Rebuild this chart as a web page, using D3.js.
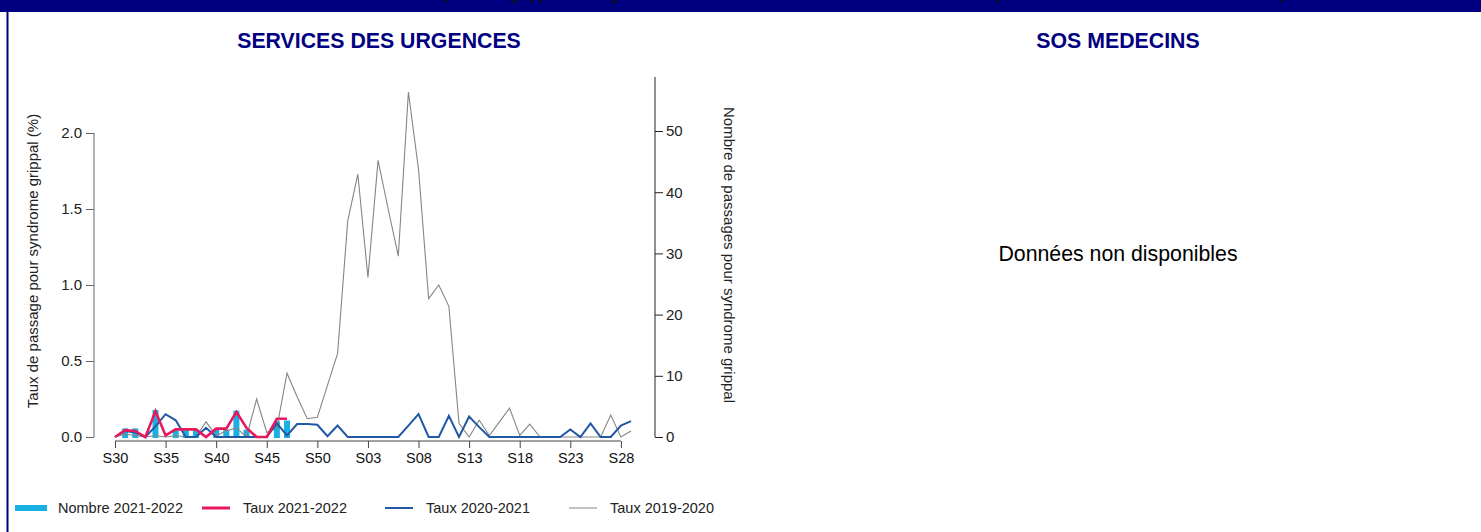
<!DOCTYPE html>
<html>
<head>
<meta charset="utf-8">
<script src="https://cdn.jsdelivr.net/npm/d3@7"></script>
<style>
	body { margin: 0; background: #fff; font-family: "Liberation Sans", Arial, sans-serif; }
	svg { display: block; }
	.axis text { font-family: "Liberation Sans", Arial, sans-serif; }
</style>
</head>
<body>
<script>
var weeks = ["S30", "S31", "S32", "S33", "S34", "S35", "S36", "S37", "S38", "S39", "S40", "S41", "S42",
	"S43", "S44", "S45", "S46", "S47", "S48", "S49", "S50", "S51", "S52", "S01", "S02", "S03", "S04",
	"S05", "S06", "S07", "S08", "S09", "S10", "S11", "S12", "S13", "S14", "S15", "S16", "S17", "S18",
	"S19", "S20", "S21", "S22", "S23", "S24", "S25", "S26", "S27", "S28", "S29"]
var tickWeeks = ["S30", "S35", "S40", "S45", "S50", "S03", "S08", "S13", "S18", "S23", "S28"]
var tauxTicks = [0, 0.5, 1.0, 1.5, 2.0]
var nombreTicks = [0, 10, 20, 30, 40, 50]

// saison en cours (s'arrete en S47)
var nombre2122 = [0, 1.4, 1.4, 0, 4.4, 0, 1.2, 1.2, 1.2, 0, 1.3, 1.2, 4.3, 1.2, 0, 0, 2.6, 2.7]
var taux2122 = [0, 0.045, 0.04, 0.0, 0.17, 0.01, 0.05, 0.05, 0.05, 0.0, 0.055, 0.055, 0.165, 0.06, 0.0, 0.0, 0.12, 0.12]

var taux2021 = [0, 0.04, 0.03, 0.0, 0.07, 0.15, 0.11, 0.0, 0.0, 0.06, 0, 0, 0, 0, 0, 0, 0.09, 0.01,
	0.085, 0.085, 0.08, 0.005, 0.075, 0, 0, 0, 0, 0, 0, 0.075, 0.15, 0, 0, 0.14, 0, 0.135, 0.065, 0,
	0, 0, 0, 0, 0, 0, 0, 0.05, 0, 0.09, 0, 0, 0.075, 0.105]

var taux1920 = [0, 0.02, 0.01, 0.0, 0.01, 0.0, 0.01, 0.0, 0.0, 0.1, 0.01, 0.04, 0.06, 0.0, 0.25, 0.03,
	0.06, 0.42, 0.265, 0.12, 0.13, 0.34, 0.55, 1.42, 1.73, 1.05, 1.82, 1.5, 1.19, 2.27, 1.76, 0.91, 1.0,
	0.86, 0.09, 0.0, 0.11, 0.01, 0.1, 0.19, 0.01, 0.085, 0, 0, 0, 0, 0, 0, 0, 0.145, 0.0, 0.04]

var legendItems = ["Nombre 2021-2022", "Taux 2021-2022", "Taux 2020-2021", "Taux 2019-2020"]

var colors = {
	nombre: "#1ab0e3",
	taux2122: "#e8185c",
	taux2021: "#2158a6",
	taux1920: "#858585",
	navy: "#000080"
}

function main() {
	var w = 1481
	var h = 532

	var svg = d3.select("body")
		.append("svg")
		.attr("width", w)
		.attr("height", h)

	drawFrame(svg, w, h)
	plotUrgences(svg)
	plotSos(svg)
	drawLegend(svg)
}

function drawFrame(svg, w, h) {
	svg.append("rect")
		.attr("x", 0)
		.attr("y", 0)
		.attr("width", w)
		.attr("height", 12)
		.attr("fill", colors.navy)

	// titre coupe par le haut de la capture : seuls les jambages depassent
	svg.append("text")
		.attr("x", 755)
		.attr("y", 0)
		.attr("text-anchor", "middle")
		.style("font-size", "15px")
		.style("font-weight", "bold")
		.attr("fill", "#111")
		.text("Evolution de l'activité liée au syndrome grippal aux urgences et SOS Médecins dans le Morbihan 2021-2022 (données arrêtées au 28 novembre 2021)")

	svg.append("line")
		.attr("x1", 7.5)
		.attr("x2", 7.5)
		.attr("y1", 12)
		.attr("y2", h)
		.attr("stroke", colors.navy)
		.attr("stroke-width", 2)

	svg.append("text")
		.attr("x", 379)
		.attr("y", 48)
		.attr("text-anchor", "middle")
		.style("font-size", "21.3px")
		.style("font-weight", "bold")
		.attr("fill", colors.navy)
		.text("SERVICES DES URGENCES")

	svg.append("text")
		.attr("x", 1118)
		.attr("y", 48)
		.attr("text-anchor", "middle")
		.style("font-size", "21.3px")
		.style("font-weight", "bold")
		.attr("fill", colors.navy)
		.text("SOS MEDECINS")
}

function plotUrgences(svg) {
	var left = 94
	var right = 655
	var y0 = 437

	var xScale = d3.scalePoint()
		.domain(weeks)
		.range([115, 631])

	var yTaux = d3.scaleLinear()
		.domain([0, 2])
		.range([y0, 133])

	var yNombre = d3.scaleLinear()
		.domain([0, 50])
		.range([y0, 131])

	// barres : nombre de passages
	svg.append("g")
		.selectAll("rect")
		.data(nombre2122.map((d, i) => ({ week: weeks[i], value: d })).filter((d) => d.value > 0))
		.enter()
		.append("rect")
		.attr("x", (d) => xScale(d.week) - 3)
		.attr("y", (d) => yNombre(d.value))
		.attr("width", 6)
		.attr("height", (d) => y0 + 1 - yNombre(d.value))
		.attr("fill", colors.nombre)

	var line = (values) => d3.line()
		.x((d, i) => xScale(weeks[i]))
		.y((d) => yTaux(d))(values)

	svg.append("path")
		.attr("d", line(taux1920))
		.attr("fill", "none")
		.attr("stroke", colors.taux1920)
		.attr("stroke-width", 1.1)

	svg.append("path")
		.attr("d", line(taux2021))
		.attr("fill", "none")
		.attr("stroke", colors.taux2021)
		.attr("stroke-width", 2)

	svg.append("path")
		.attr("d", line(taux2122))
		.attr("fill", "none")
		.attr("stroke", colors.taux2122)
		.attr("stroke-width", 2.6)

	// axe x
	var xAxis = d3.axisBottom(xScale)
		.tickValues(tickWeeks)
		.tickSize(7)
		.tickPadding(5)

	var gx = svg.append("g")
		.attr("class", "axis")
		.attr("transform", "translate(0,441)")
		.call(xAxis)
	gx.select(".domain").remove()
	gx.append("line")
		.attr("x1", xScale(tickWeeks[0]))
		.attr("x2", xScale(tickWeeks[tickWeeks.length - 1]))
		.attr("stroke", "#444")
	gx.selectAll(".tick line").attr("stroke", "#444")
	gx.selectAll("text")
		.style("font-size", "14.5px")
		.attr("fill", "#111")

	// axe gauche : taux
	var yAxis = d3.axisLeft(yTaux)
		.tickValues(tauxTicks)
		.tickFormat(d3.format(".1f"))
		.tickSize(8)
		.tickPadding(4)

	var gy = svg.append("g")
		.attr("class", "axis")
		.attr("transform", "translate(" + left + ",0)")
		.call(yAxis)
	gy.select(".domain").remove()
	gy.append("line")
		.attr("y1", yTaux(0))
		.attr("y2", yTaux(2))
		.attr("stroke", "#666")
	gy.selectAll(".tick line").attr("stroke", "#666")
	gy.selectAll("text")
		.style("font-size", "15px")
		.attr("fill", "#222")

	// axe droit : nombre
	var yAxis2 = d3.axisRight(yNombre)
		.tickValues(nombreTicks)
		.tickSize(8)
		.tickPadding(3)

	var gy2 = svg.append("g")
		.attr("class", "axis")
		.attr("transform", "translate(" + right + ",0)")
		.call(yAxis2)
	gy2.select(".domain").remove()
	gy2.append("line")
		.attr("y1", y0)
		.attr("y2", 77)
		.attr("stroke", "#222")
	gy2.selectAll(".tick line").attr("stroke", "#222")
	gy2.selectAll("text")
		.style("font-size", "15px")
		.attr("fill", "#222")

	svg.append("text")
		.attr("transform", "translate(38," + 261 + ") rotate(-90)")
		.attr("text-anchor", "middle")
		.style("font-size", "15px")
		.attr("fill", "#222")
		.text("Taux de passage pour syndrome grippal (%)")

	svg.append("text")
		.attr("transform", "translate(724," + 255 + ") rotate(90)")
		.attr("text-anchor", "middle")
		.style("font-size", "15px")
		.attr("fill", "#222")
		.text("Nombre de passages pour syndrome grippal")
}

function plotSos(svg) {
	svg.append("text")
		.attr("x", 1118)
		.attr("y", 261)
		.attr("text-anchor", "middle")
		.style("font-size", "21.3px")
		.attr("fill", "#000")
		.text("Données non disponibles")
}

function drawLegend(svg) {
	var xs = [15, 202, 385, 569]
	var y = 508

	var legend = svg.append("g")

	legend.append("rect")
		.attr("x", xs[0])
		.attr("y", y - 3)
		.attr("width", 32)
		.attr("height", 6)
		.attr("fill", colors.nombre)

	var lineStyles = [null,
		[colors.taux2122, 3],
		[colors.taux2021, 2],
		[colors.taux1920, 1]]

	lineStyles.forEach((s, i) => {
		if (!s) return
		legend.append("line")
			.attr("x1", xs[i])
			.attr("x2", xs[i] + 28)
			.attr("y1", y)
			.attr("y2", y)
			.attr("stroke", s[0])
			.attr("stroke-width", s[1])
	})

	legend.selectAll("text")
		.data(legendItems)
		.enter()
		.append("text")
		.attr("x", (d, i) => xs[i] + (i == 0 ? 43 : 41))
		.attr("y", y + 5)
		.style("font-size", "14.5px")
		.attr("fill", "#222")
		.text((d) => d)
}

main()
</script>
</body>
</html>
